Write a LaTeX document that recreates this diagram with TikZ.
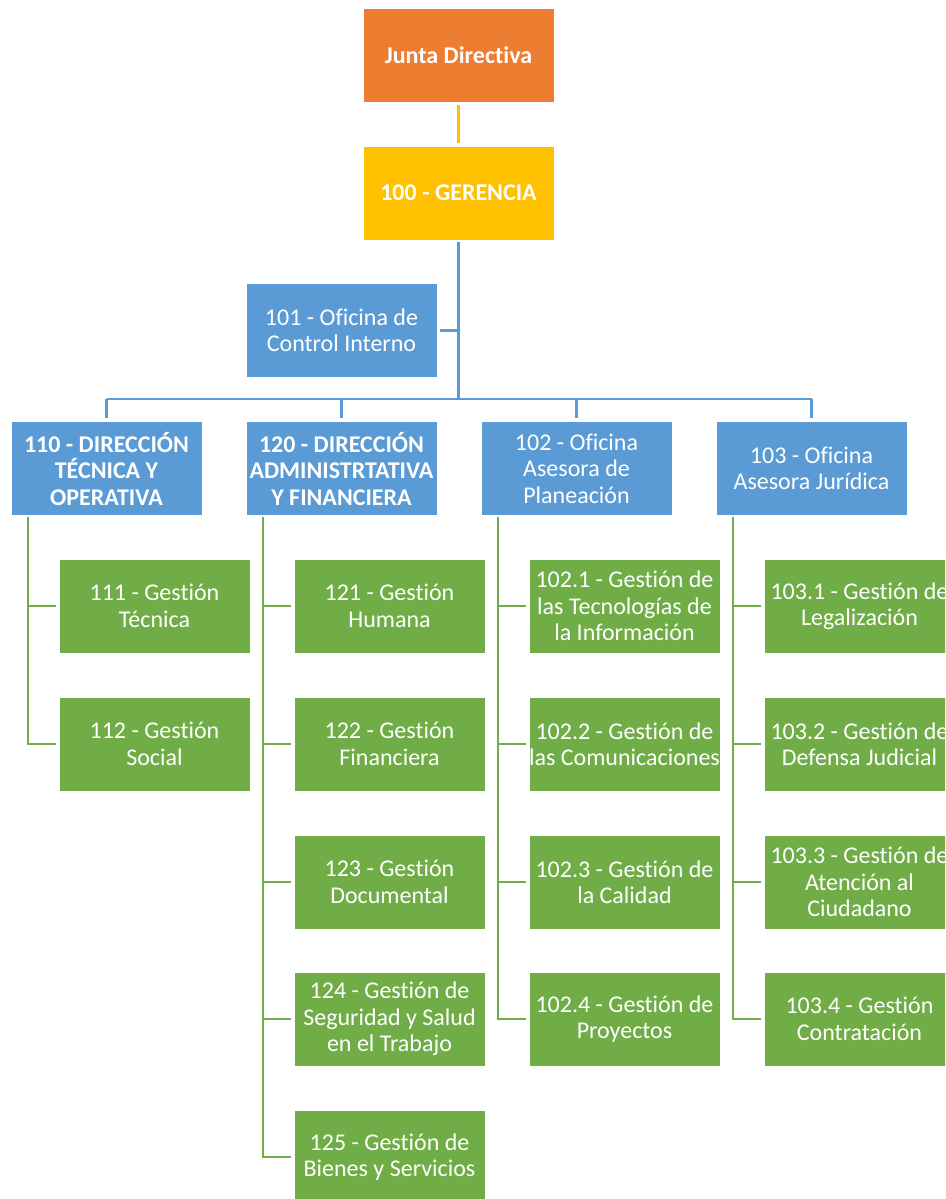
\documentclass[tikz,border=0pt]{standalone}
\usepackage{fontspec}
\setmainfont{Carlito}[Ligatures={NoCommon}]
\definecolor{corange}{HTML}{ED7D31}
\definecolor{cgold}{HTML}{FFC000}
\definecolor{cblue}{HTML}{5B9BD5}
\definecolor{cgreen}{HTML}{70AD47}
\tikzset{
  box/.style={rectangle, draw=white, line width=0.8pt, minimum width=191pt, minimum height=94pt, inner sep=0pt, align=center, text=white, font=\fontsize{24}{26.5}\selectfont},
  topbox/.style={box, fill=corange, font=\fontsize{24}{26.5}\selectfont\bfseries},
  gerbox/.style={box, fill=cgold, font=\fontsize{24}{26.5}\selectfont\bfseries},
  bluebox/.style={box, fill=cblue},
  bluebold/.style={bluebox, font=\fontsize{24}{26.5}\selectfont\bfseries},
  greenbox/.style={box, fill=cgreen},
  gline/.style={draw=cgold, line width=2.5pt},
  bline/.style={draw=cblue, line width=2.5pt},
  grline/.style={draw=cgreen, line width=2.5pt}
}
\begin{document}
\begin{tikzpicture}[x=1pt,y=-1pt]
\useasboundingbox (0,0) rectangle (945,1199);
\clip (0,0) rectangle (945,1199);
\fill[white] (0,0) rectangle (945,1199);

% connector anchors
\coordinate (hb) at (458.5,399);
\coordinate (s1) at (28,517);
\coordinate (s2) at (263,517);
\coordinate (s3) at (498,517);
\coordinate (s4) at (733,517);

% nodes
\node[topbox] (junta) at (458.5,55) {Junta Directiva};
\node[gerbox] (ger) at (458.5,193) {100 - GERENCIA};
\node[bluebox] (o101) at (341.5,330.5) {101 - Oficina de\\Control Interno};

\node[bluebold] (d110) at (106.5,468.5) {110 - DIRECCIÓN\\TÉCNICA Y\\OPERATIVA};
\node[bluebold] (d120) at (341.5,468.5) {120 - DIRECCIÓN\\ADMINISTRTATIVA\\Y FINANCIERA};
\node[bluebox] (d102) at (576.5,468.5) {102 - Oficina\\Asesora de\\Planeación};
\node[bluebox] (d103) at (811.5,468.5) {103 - Oficina\\Asesora Jurídica};

\node[greenbox] (c111) at (154.5,606) {111 - Gestión\\Técnica};
\node[greenbox] (c112) at (154.5,744) {112 - Gestión\\Social};

\node[greenbox] (c121) at (389.5,606) {121 - Gestión\\Humana};
\node[greenbox] (c122) at (389.5,744) {122 - Gestión\\Financiera};
\node[greenbox] (c123) at (389.5,882) {123 - Gestión\\Documental};
\node[greenbox] (c124) at (389.5,1019) {124 - Gestión de\\Seguridad y Salud\\en el Trabajo};
\node[greenbox] (c125) at (389.5,1157) {125 - Gestión de\\Bienes y Servicios};

\node[greenbox] (c1021) at (624.5,606) {102.1 - Gestión de\\las Tecnologías de\\la Información};
\node[greenbox] (c1022) at (624.5,744) {102.2 - Gestión de\\las Comunicaciones};
\node[greenbox] (c1023) at (624.5,882) {102.3 - Gestión de\\la Calidad};
\node[greenbox] (c1024) at (624.5,1019) {102.4 - Gestión de\\Proyectos};

\node[greenbox] (c1031) at (859.5,606) {103.1 - Gestión de\\Legalización};
\node[greenbox] (c1032) at (859.5,744) {103.2 - Gestión de\\Defensa Judicial};
\node[greenbox] (c1033) at (859.5,882) {103.3 - Gestión de\\Atención al\\Ciudadano};
\node[greenbox] (c1034) at (859.5,1019) {103.4 - Gestión\\Contratación};

% lines
\draw[gline, shorten <=3pt, shorten >=3pt] (junta.south) -- (ger.north);
\draw[bline, shorten <=2pt] (ger.south) -- (hb);
\draw[bline, shorten <=3pt] (o101.east) -- (o101.east -| hb);
\draw[bline, shorten >=3pt] (d110.north |- hb) -- (d110.north);
\draw[bline] (d110.north |- hb) -- (d103.north |- hb);
\draw[bline, shorten >=3pt] (d120.north |- hb) -- (d120.north);
\draw[bline, shorten >=3pt] (d102.north |- hb) -- (d102.north);
\draw[bline, shorten >=3pt] (d103.north |- hb) -- (d103.north);

\draw[grline, shorten >=3pt] (s1) |- (c112.west);
\draw[grline, shorten <=3pt] (c111.west) -- (c111.west -| s1);

\draw[grline, shorten >=3pt] (s2) |- (c125.west);
\foreach \n in {c121,c122,c123,c124}
  \draw[grline, shorten <=3pt] (\n.west) -- (\n.west -| s2);

\draw[grline, shorten >=3pt] (s3) |- (c1024.west);
\foreach \n in {c1021,c1022,c1023}
  \draw[grline, shorten <=3pt] (\n.west) -- (\n.west -| s3);

\draw[grline, shorten >=3pt] (s4) |- (c1034.west);
\foreach \n in {c1031,c1032,c1033}
  \draw[grline, shorten <=3pt] (\n.west) -- (\n.west -| s4);
\end{tikzpicture}
\end{document}
